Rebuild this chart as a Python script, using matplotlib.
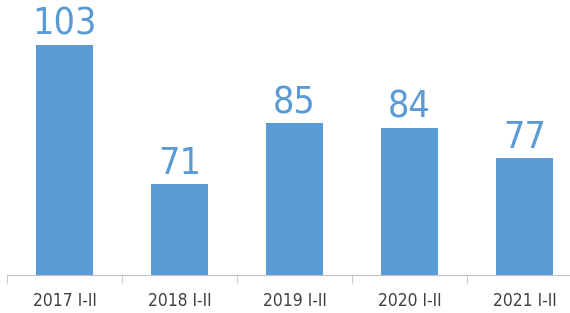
import matplotlib
matplotlib.use("Agg")
import matplotlib.pyplot as plt
import numpy as np

categories = ["2017 I-II", "2018 I-II", "2019 I-II", "2020 I-II", "2021 I-II"]
values = [103, 71, 85, 84, 77]

BLUE = "#5B9BD5"
FONT = ["Liberation Sans Narrow", "DejaVu Sans"]

fig = plt.figure(figsize=(5.7, 3.13), dpi=100)
ax = fig.add_axes([7 / 570, 1 - 275 / 313, 575 / 570, 275 / 313])

x = np.arange(len(categories))
ax.bar(x, values, width=0.5, color=BLUE)
for xi, v in zip(x, values):
    ax.text(xi, v + 0.5, str(v), ha="center", va="bottom", fontsize=27,
            color=BLUE, family=FONT, fontstretch="condensed")

ax.set_xlim(-0.5, len(categories) - 0.5)
ax.set_ylim(50, 113.4)
ax.set_yticks([])
ax.set_xticks(x)
ax.set_xticklabels(categories, fontsize=12.5, color="#404040",
                   family=FONT, fontstretch="condensed")
ax.tick_params(axis="x", which="major", length=0, pad=12)
ax.set_xticks(np.arange(-0.5, len(categories)), minor=True)
ax.tick_params(axis="x", which="minor", length=6, color="#BFBFBF")

for side in ["top", "right", "left"]:
    ax.spines[side].set_visible(False)
ax.spines["bottom"].set_color("#BFBFBF")

fig.savefig("out.png", dpi=100)
